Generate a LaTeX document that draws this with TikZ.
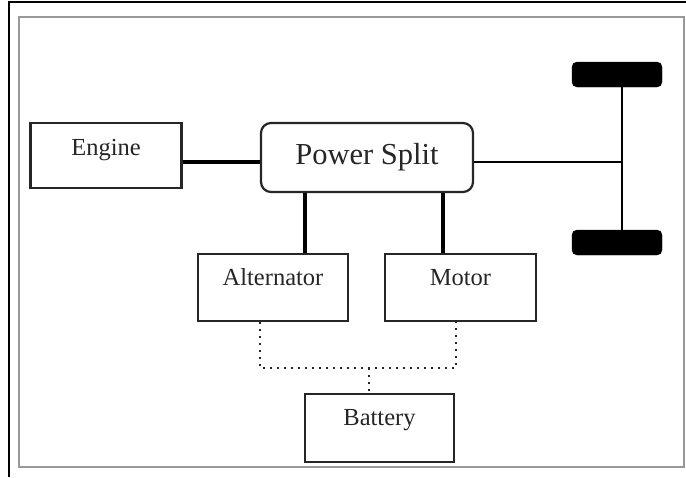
\documentclass[tikz,border=0pt]{standalone}
\usepackage{fontspec}
\setmainfont{Liberation Serif}
\begin{document}
\begin{tikzpicture}[x=1pt,y=-1pt,
  box/.style={draw=black!85, line width=2.2pt, rectangle, inner sep=0pt, fill=white},
  lbl/.style={font=\fontsize{24.5}{27}\selectfont, text=black!85, inner sep=0pt, anchor=base},
  thick link/.style={line width=3.5pt, black},
  thin link/.style={line width=2.6pt, black},
  dots/.style={line width=2.5pt, black!85, dash pattern=on 2pt off 5pt},
  wheel/.style={fill=black, draw=black, rounded corners=5pt, inner sep=0pt, minimum width=90pt, minimum height=25pt}]
\useasboundingbox (0,0) rectangle (686,477);
\fill[white] (0,0) rectangle (686,477);
% frames
\draw[line width=1.5pt, black] (9,477) -- (9,2) -- (686,2);
\draw[line width=1.5pt, black!40] (19,17) rectangle (684,467);
% boxes
\node[box, minimum width=151pt, minimum height=65pt,
  label={[lbl, yshift=-34pt]north:Engine}] (engine) at (106,155.5) {};
\node[box, rounded corners=10pt, minimum width=212pt, minimum height=69pt,
  font=\fontsize{30.5}{34}\selectfont, text=black!85] (ps) at (367,157.5) {Power Split};
\node[box, minimum width=150pt, minimum height=67pt,
  label={[lbl, yshift=-33pt]north:Alternator}] (alt) at (273,287.5) {};
\node[box, minimum width=151pt, minimum height=67pt,
  label={[lbl, yshift=-33pt]north:Motor}] (motor) at (460.5,287.5) {};
\node[box, minimum width=149pt, minimum height=68pt,
  label={[lbl, yshift=-33pt]north:Battery}] (bat) at (379.5,428) {};
% wheels and axle
\node[wheel] (wtop) at (617,74.5) {};
\node[wheel] (wbot) at (617,242.5) {};
\coordinate (axle) at (622,162);
\draw[thin link] (wtop.south -| axle) -- (wbot.north -| axle);
% mechanical links
\draw[thick link] (engine.east |- 0,162) -- (ps.west |- 0,162);
\draw[thin link] (ps.east |- 0,162) -- (axle);
\draw[thick link] (ps.south -| 305,0) -- (alt.north -| 305,0);
\draw[thick link] (ps.south -| 443,0) -- (motor.north -| 443,0);
% electrical links
\coordinate (jl) at (260,368);
\coordinate (jr) at (456,368);
\coordinate (jm) at (369,368);
\draw[dots] (alt.south -| jl) -- (jl) -- (jr) -- (motor.south -| jr);
\draw[dots] (jm) -- (bat.north -| jm);
\end{tikzpicture}
\end{document}
